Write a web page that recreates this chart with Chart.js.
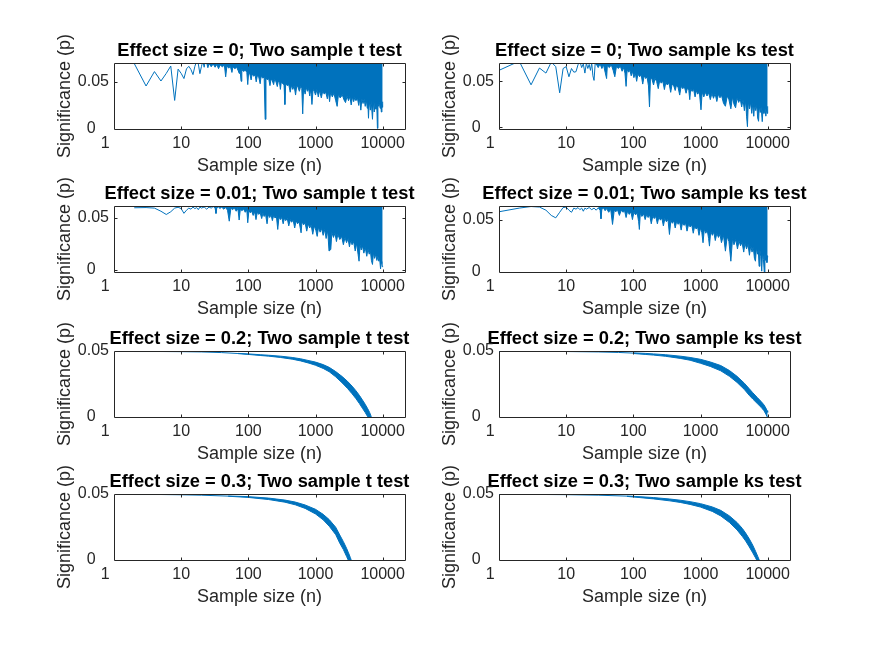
<!DOCTYPE html>
<html>
<head>
<meta charset="utf-8">
<script src="https://cdn.jsdelivr.net/npm/chart.js@4.4.1/dist/chart.umd.min.js"></script>
<style>
html, body { margin: 0; padding: 0; background: #ffffff; }
#fig { position: relative; width: 875px; height: 656px; overflow: hidden; background: #ffffff; }
#fig canvas { position: absolute; }
</style>
</head>
<body>
<div id="fig"></div>
<script>
// ---------------- data ----------------
const xTickValues = [1, 10, 100, 1000, 10000];
const xTickLabels = ['1', '10', '100', '1000', '10000'];
const yTickValues = [0, 0.05];
const yTickLabels = ['0', '0.05'];
const xAxisMin = 1;
const xAxisMax = 21500;
const xLabel = 'Sample size (n)';
const yLabel = 'Significance (p)';

const panelTitles = [
  'Effect size = 0; Two sample t test', 'Effect size = 0; Two sample ks test',
  'Effect size = 0.01; Two sample t test', 'Effect size = 0.01; Two sample ks test',
  'Effect size = 0.2; Two sample t test', 'Effect size = 0.2; Two sample ks test',
  'Effect size = 0.3; Two sample t test', 'Effect size = 0.3; Two sample ks test'
];
const yAxisMin = [0, -0.002, -0.002, 0, 0, 0, 0, 0];
const yAxisMax = [0.07, 0.07, 0.061, 0.063, 0.05, 0.05, 0.05, 0.05];

// Effect size 0, t test: sparse start [n, p] and lower edge of the dense region [n, p]
const tZeroLine = [[2,0.0695],[3,0.0456],[4,0.0609],[5,0.0509],[6,0.0590],[7,0.0668],[8,0.0303],[9,0.0635],[10,0.0590],[11,0.0535],[12,0.0638],[13,0.0665],[14,0.0630],[15,0.0577],[16,0.0665],[17,0.0720],[18,0.0690],[19,0.0587],[20,0.0660],[21,0.0720],[22,0.0655],[23,0.0740],[24,0.0700]];
const tZeroEdge = [[24,0.0700],[25,0.0650],[26,0.0695],[28,0.0660],[30,0.0690],[32,0.0655],[34,0.0685],[36,0.0640],[38,0.0680],[41,0.0660],
  [44,0.0678],[46,0.0553],[48,0.0670],[51,0.0645],[54,0.0665],[57,0.0600],[59,0.0660],[63,0.0640],[67,0.0655],[71,0.0615],
  [73,0.0590],[75,0.0640],[78,0.0506],[80,0.0630],[85,0.0610],[90,0.0625],[95,0.0600],[98,0.0471],[101,0.0595],[106,0.0575],
  [110,0.0520],[114,0.0585],[120,0.0560],[126,0.0575],[131,0.0500],[136,0.0565],[143,0.0550],[150,0.0480],[155,0.0560],[163,0.0540],
  [172,0.0550],[178,0.0103],[183,0.0545],[192,0.0520],[200,0.0540],[210,0.0460],[218,0.0530],[228,0.0510],[238,0.0470],[246,0.0525],
  [258,0.0500],[270,0.0450],[280,0.0510],[292,0.0490],[300,0.0420],[310,0.0500],[325,0.0480],[340,0.0470],[350,0.0260],[360,0.0480],
  [380,0.0460],[400,0.0470],[420,0.0390],[440,0.0465],[460,0.0420],[480,0.0460],[505,0.0360],[525,0.0455],[550,0.0440],[575,0.0400],
  [600,0.0450],[625,0.0430],[645,0.0160],[665,0.0440],[700,0.0370],[730,0.0440],[760,0.0400],[790,0.0430],[820,0.0350],[850,0.0425],
  [885,0.0260],[920,0.0420],[960,0.0400],[1000,0.0360],[1050,0.0420],[1100,0.0340],[1150,0.0410],[1220,0.0330],[1280,0.0400],[1350,0.0370],
  [1420,0.0390],[1500,0.0320],[1560,0.0395],[1620,0.0290],[1680,0.0390],[1780,0.0340],[1880,0.0380],[2000,0.0300],[2100,0.0240],[2200,0.0370],
  [2320,0.0330],[2400,0.0340],[2500,0.0365],[2650,0.0310],[2800,0.0280],[2950,0.0350],[3100,0.0300],[3250,0.0345],[3400,0.0255],[3550,0.0340],
  [3700,0.0290],[3850,0.0335],[4000,0.0300],[4200,0.0330],[4400,0.0250],[4550,0.0325],[4730,0.0200],[4900,0.0320],[5100,0.0270],[5300,0.0315],
  [5500,0.0240],[5700,0.0310],[5900,0.0220],[6000,0.0300],[6150,0.0114],[6300,0.0300],[6550,0.0200],[6750,0.0295],[7050,0.0103],[7250,0.0290],
  [7500,0.0180],[7700,0.0290],[7950,0.0210],[8150,0.0280],[8350,0.0007],[8500,0.0270],[8750,0.0240],[8950,0.0280],[9150,0.0220],[9350,0.0270],
  [9550,0.0180],[9750,0.0260],[9900,0.0230],[10000,0.0290]];

// Effect size 0, ks test
const ksZeroLine = [[1,0.0620],[2,0.0720],[3,0.0462],[4,0.0645],[5,0.0590],[6,0.0710],[7,0.0660],[8,0.0375],[9,0.0640],[10,0.0660],[11,0.0550],[12,0.0640],[13,0.0600],[14,0.0605],[15,0.0680],[16,0.0720],[17,0.0650],[18,0.0690],[19,0.0590],[20,0.0700],[21,0.0640],[22,0.0685],[23,0.0620],[24,0.0700],[25,0.0560],[26,0.0510],[27,0.0690],[28,0.0690]];
const ksZeroEdge = [[28,0.0690],[30,0.0650],[32,0.0690],[34,0.0640],[36,0.0680],[38,0.0600],[40,0.0530],[41,0.0670],[44,0.0650],[47,0.0680],
  [50,0.0620],[53,0.0550],[56,0.0660],[60,0.0640],[64,0.0665],[68,0.0610],[72,0.0650],[75,0.0590],[78,0.0445],[81,0.0630],
  [85,0.0600],[89,0.0620],[93,0.0560],[97,0.0610],[102,0.0540],[107,0.0590],[112,0.0500],[117,0.0580],[124,0.0550],[131,0.0570],
  [138,0.0470],[145,0.0560],[153,0.0530],[160,0.0550],[168,0.0450],[174,0.0220],[180,0.0540],[190,0.0520],[200,0.0460],[210,0.0530],
  [222,0.0500],[235,0.0420],[247,0.0510],[260,0.0480],[275,0.0500],[290,0.0410],[305,0.0490],[320,0.0460],[340,0.0480],[360,0.0380],
  [378,0.0470],[400,0.0450],[420,0.0400],[440,0.0460],[465,0.0430],[490,0.0350],[515,0.0445],[545,0.0420],[575,0.0440],[610,0.0370],
  [640,0.0430],[670,0.0400],[692,0.0300],[715,0.0420],[750,0.0390],[790,0.0410],[830,0.0330],[870,0.0400],[910,0.0360],[960,0.0390],
  [1017,0.0189],[1060,0.0385],[1120,0.0330],[1180,0.0380],[1250,0.0340],[1320,0.0375],[1400,0.0300],[1480,0.0370],[1560,0.0315],[1650,0.0365],
  [1750,0.0280],[1850,0.0360],[1950,0.0320],[2050,0.0350],[2200,0.0260],[2350,0.0228],[2500,0.0340],[2650,0.0300],[2830,0.0200],[3000,0.0330],
  [3150,0.0250],[3330,0.0211],[3500,0.0320],[3700,0.0270],[3900,0.0310],[4100,0.0220],[4300,0.0300],[4500,0.0180],[4700,0.0290],[4850,0.0120],
  [5000,0.0005],[5150,0.0280],[5350,0.0200],[5550,0.0270],[5800,0.0150],[6000,0.0260],[6210,0.0119],[6400,0.0250],[6650,0.0180],[6900,0.0240],
  [7100,0.0100],[7320,0.0064],[7500,0.0230],[7750,0.0160],[8000,0.0220],[8300,0.0060],[8550,0.0210],[8800,0.0150],[9100,0.0210],[9400,0.0120],
  [9650,0.0200],[9850,0.0150],[10000,0.0228]];

// Effect size 0.01, t test
const tSmallLine = [[2,0.0593],[3,0.0595],[4,0.0590],[5,0.0560],[6,0.0529],[7,0.0555],[8,0.0590],[9,0.0598],[10,0.0585],[11,0.0540],[12,0.0570],[13,0.0590],[14,0.0580],[15,0.0600],[16,0.0585],[17,0.0595],[18,0.0575],[19,0.0600],[20,0.0590],[22,0.0600],[24,0.0580],[26,0.0600],[28,0.0590],[30,0.0605]];
const tSmallEdge = [[30,0.0605],[32,0.0590],[33,0.0539],[34,0.0595],[36,0.0600],[38,0.0585],[40,0.0600],[43,0.0580],[46,0.0595],[49,0.0570],
  [52,0.0465],[55,0.0590],[58,0.0575],[62,0.0590],[66,0.0560],[70,0.0585],[73,0.0476],[76,0.0580],[80,0.0565],[85,0.0580],
  [90,0.0550],[95,0.0570],[98,0.0450],[102,0.0565],[107,0.0545],[112,0.0560],[118,0.0520],[124,0.0555],[130,0.0480],[136,0.0550],
  [143,0.0530],[150,0.0545],[158,0.0490],[165,0.0540],[172,0.0510],[180,0.0535],[190,0.0440],[198,0.0530],[208,0.0500],[218,0.0525],
  [228,0.0470],[238,0.0520],[250,0.0495],[262,0.0510],[274,0.0386],[286,0.0505],[300,0.0480],[315,0.0500],[330,0.0440],[345,0.0495],
  [360,0.0470],[380,0.0490],[400,0.0420],[420,0.0480],[440,0.0455],[465,0.0475],[490,0.0400],[515,0.0470],[540,0.0440],[570,0.0460],
  [600,0.0380],[610,0.0354],[630,0.0460],[665,0.0430],[700,0.0450],[740,0.0370],[780,0.0440],[820,0.0400],[860,0.0430],[910,0.0340],
  [960,0.0420],[1010,0.0380],[1060,0.0320],[1110,0.0410],[1170,0.0360],[1230,0.0395],[1300,0.0330],[1370,0.0385],[1440,0.0300],[1520,0.0375],
  [1590,0.0180],[1690,0.0195],[1750,0.0360],[1850,0.0310],[1950,0.0350],[2050,0.0270],[2150,0.0340],[2300,0.0290],[2450,0.0320],[2600,0.0240],
  [2750,0.0310],[2900,0.0260],[3050,0.0300],[3200,0.0220],[3350,0.0285],[3500,0.0240],[3700,0.0270],[3900,0.0180],[4100,0.0255],[4300,0.0150],
  [4450,0.0083],[4600,0.0240],[4800,0.0190],[5000,0.0230],[5250,0.0160],[5500,0.0215],[5800,0.0130],[6050,0.0200],[6300,0.0150],[6550,0.0185],
  [6800,0.0090],[7050,0.0052],[7300,0.0165],[7600,0.0110],[7900,0.0150],[8200,0.0090],[8500,0.0130],[8750,0.0083],[9000,0.0110],[9300,0.0010],
  [9500,0.0080],[9700,0.0060],[9850,0.0030],[10000,0.0035]];

// Effect size 0.01, ks test
const ksSmallLine = [[1,0.0575],[2,0.0610],[3,0.0625],[4,0.0620],[5,0.0590],[6,0.0540],[7,0.0517],[8,0.0570],[9,0.0615],[10,0.0620],[11,0.0590],[12,0.0570],[13,0.0610],[14,0.0600],[15,0.0615],[16,0.0595],[17,0.0610],[18,0.0580],[19,0.0610],[20,0.0600],[22,0.0615],[24,0.0595],[26,0.0610],[28,0.0590],[30,0.0612]];
const ksSmallEdge = [[30,0.0612],[32,0.0590],[33,0.0508],[34,0.0600],[36,0.0610],[38,0.0585],[40,0.0605],[43,0.0570],[46,0.0600],[49,0.0454],
  [52,0.0590],[55,0.0575],[58,0.0595],[62,0.0540],[66,0.0590],[70,0.0570],[74,0.0585],[78,0.0520],[82,0.0580],[87,0.0550],
  [92,0.0575],[97,0.0500],[102,0.0570],[108,0.0545],[114,0.0565],[120,0.0480],[123,0.0406],[127,0.0560],[134,0.0530],[142,0.0555],
  [150,0.0500],[158,0.0550],[166,0.0520],[175,0.0545],[185,0.0460],[195,0.0535],[205,0.0510],[216,0.0530],[228,0.0460],[240,0.0525],
  [253,0.0495],[266,0.0515],[280,0.0440],[295,0.0510],[310,0.0480],[328,0.0500],[345,0.0358],[362,0.0495],[380,0.0465],[400,0.0490],
  [420,0.0420],[442,0.0485],[465,0.0455],[490,0.0475],[515,0.0400],[540,0.0470],[570,0.0445],[600,0.0465],[630,0.0390],[665,0.0455],
  [700,0.0430],[740,0.0450],[780,0.0370],[820,0.0440],[860,0.0410],[905,0.0430],[950,0.0350],[1000,0.0420],[1045,0.0380],[1090,0.0279],
  [1140,0.0410],[1200,0.0370],[1260,0.0400],[1320,0.0320],[1360,0.0247],[1420,0.0390],[1500,0.0350],[1580,0.0380],[1660,0.0300],[1750,0.0370],
  [1850,0.0330],[1950,0.0360],[2050,0.0280],[2200,0.0350],[2350,0.0199],[2500,0.0340],[2650,0.0290],[2830,0.0103],[3000,0.0320],[3150,0.0260],
  [3350,0.0310],[3550,0.0220],[3750,0.0295],[3950,0.0250],[4150,0.0285],[4400,0.0190],[4600,0.0275],[4850,0.0220],[5100,0.0265],[5350,0.0160],
  [5600,0.0250],[5850,0.0190],[6100,0.0240],[6350,0.0130],[6580,0.0103],[6800,0.0230],[7050,0.0170],[7250,0.0220],[7450,0.0055],[7650,0.0210],
  [7900,0.0150],[8150,0.0008],[8400,0.0190],[8650,0.0120],[8900,0.0000],[9100,0.0170],[9350,0.0110],[9550,0.0160],[9750,0.0090],[9900,0.0140],
  [10000,0.0151]];

// Effect size 0.2 / 0.3: thin start [n, p] then noisy band [n, upper p, lower p]
const tMidLine = [[2,0.0496],[5,0.0496],[10,0.0495],[20,0.0493],[40,0.0488],[70,0.0481]];
const tMidBand = [[70,0.0482,0.0480],[100,0.0478,0.0474],[150,0.0472,0.0466],[200,0.0468,0.0461],[300,0.0461,0.0451],[450,0.0451,0.0438],
  [600,0.0441,0.0425],[800,0.0427,0.0408],[1000,0.0416,0.0392],[1300,0.0397,0.0368],[1600,0.0376,0.0343],[2000,0.0344,0.0304],
  [2500,0.0306,0.0258],[3000,0.0270,0.0216],[3500,0.0234,0.0176],[4000,0.0199,0.0139],[4500,0.0164,0.0102],[5000,0.0129,0.0066],
  [5500,0.0096,0.0034],[6000,0.0062,0.0001],[6400,0.0034,-0.0020],[6700,0.0008,-0.0020],[6800,-0.0005,-0.0020]];

const ksMidLine = [[1,0.0497],[3,0.0497],[10,0.0496],[30,0.0493],[60,0.0489],[100,0.0484]];
const ksMidBand = [[100,0.0486,0.0481],[150,0.0482,0.0474],[200,0.0478,0.0469],[300,0.0472,0.0460],[500,0.0461,0.0444],[700,0.0451,0.0430],
  [1000,0.0437,0.0407],[1400,0.0417,0.0383],[2000,0.0390,0.0350],[2700,0.0352,0.0308],[3500,0.0308,0.0262],[4500,0.0256,0.0208],
  [5300,0.0215,0.0165],[6000,0.0184,0.0136],[7000,0.0148,0.0102],[8000,0.0117,0.0073],[8800,0.0092,0.0048],[9400,0.0068,0.0022],
  [9800,0.0048,0.0002],[10000,0.0035,-0.0010]];

const tLargeLine = [[2,0.0496],[5,0.0496],[10,0.0494],[20,0.0491],[50,0.0484]];
const tLargeBand = [[50,0.0485,0.0483],[100,0.0480,0.0474],[200,0.0469,0.0458],[350,0.0454,0.0438],[500,0.0439,0.0418],[700,0.0417,0.0391],
  [1000,0.0384,0.0349],[1300,0.0346,0.0304],[1600,0.0306,0.0256],[2000,0.0248,0.0192],[2300,0.0189,0.0127],[2600,0.0139,0.0079],
  [2900,0.0089,0.0027],[3100,0.0054,-0.0005],[3300,0.0019,-0.0020],[3400,0.0000,-0.0020]];

const ksLargeLine = [[1,0.0497],[3,0.0497],[10,0.0495],[30,0.0491],[80,0.0484]];
const ksLargeBand = [[80,0.0485,0.0482],[130,0.0479,0.0472],[200,0.0473,0.0463],[350,0.0462,0.0448],[500,0.0453,0.0436],[700,0.0442,0.0421],
  [1000,0.0427,0.0401],[1500,0.0402,0.0368],[2000,0.0376,0.0334],[2700,0.0334,0.0284],[3500,0.0284,0.0228],[4200,0.0239,0.0178],
  [4700,0.0204,0.0144],[5300,0.0162,0.0101],[6000,0.0112,0.0054],[6600,0.0066,0.0016],[7100,0.0029,-0.0015],[7500,0.0000,-0.0020]];

// ---------------- rendering ----------------
const FONT = '"Liberation Sans", Arial, Helvetica, sans-serif';
const BLUE = '#0072BD';
const AXIS = '#262626';

const colLeft = [114, 499];
const rowTop = [63, 206, 351, 494];
const plotW = 291, plotH = 66;
const axisW = 60, axisH = 46, padT = 8, padB = 8, titleBlock = 21;

const toXY = (pairs) => pairs.map(d => ({x: d[0], y: d[1]}));
const lineDs = (pairs) => ({data: toXY(pairs), borderColor: BLUE, borderWidth: 1, pointRadius: 0, fill: false, xAxisID: 'x', yAxisID: 'y'});
const edgeDs = (pairs) => ({data: toXY(pairs), borderColor: BLUE, backgroundColor: BLUE, borderWidth: 1, pointRadius: 0, fill: 'end', xAxisID: 'x', yAxisID: 'y'});
const bandDs = (triples) => [
  {data: triples.map(d => ({x: d[0], y: d[1]})), borderColor: BLUE, borderWidth: 1, pointRadius: 0, fill: false, xAxisID: 'x', yAxisID: 'y'},
  {data: triples.map(d => ({x: d[0], y: d[2]})), borderColor: BLUE, backgroundColor: BLUE, borderWidth: 1, pointRadius: 0, fill: '-1', xAxisID: 'x', yAxisID: 'y'}
];

const panelData = [
  [lineDs(tZeroLine), edgeDs(tZeroEdge)],
  [lineDs(ksZeroLine), edgeDs(ksZeroEdge)],
  [lineDs(tSmallLine), edgeDs(tSmallEdge)],
  [lineDs(ksSmallLine), edgeDs(ksSmallEdge)],
  [lineDs(tMidLine), ...bandDs(tMidBand)],
  [lineDs(ksMidLine), ...bandDs(ksMidBand)],
  [lineDs(tLargeLine), ...bandDs(tLargeBand)],
  [lineDs(ksLargeLine), ...bandDs(ksLargeBand)]
];

const boxPlugin = {
  id: 'matlabBox',
  afterDatasetsDraw(chart) {
    const {ctx, chartArea: a} = chart;
    const xs = chart.scales.x, ys = chart.scales.y;
    const L = Math.floor(a.left) + 0.5, R = Math.floor(a.right) + 0.5;
    const T = Math.floor(a.top) + 0.5, B = Math.floor(a.bottom) + 0.5;
    const tl = 3;
    ctx.save();
    ctx.strokeStyle = AXIS;
    ctx.lineWidth = 1;
    ctx.beginPath();
    ctx.rect(L, T, R - L, B - T);
    xs.ticks.forEach(t => {
      const px = Math.round(xs.getPixelForValue(t.value)) + 0.5;
      if (px - L < 1 || R - px < 1) return;
      ctx.moveTo(px, B); ctx.lineTo(px, B - tl);
      ctx.moveTo(px, T); ctx.lineTo(px, T + tl);
    });
    ys.ticks.forEach(t => {
      const py = Math.round(ys.getPixelForValue(t.value)) + 0.5;
      if (py - T < 1 || B - py < 1) return;
      ctx.moveTo(L, py); ctx.lineTo(L + tl, py);
      ctx.moveTo(R, py); ctx.lineTo(R - tl, py);
    });
    ctx.stroke();
    ctx.restore();
  }
};

const fig = document.getElementById('fig');
panelTitles.forEach((title, i) => {
  const col = i % 2, row = Math.floor(i / 2);
  const W = axisW * 2 + plotW;
  const H = padT + titleBlock + plotH + axisH + padB;
  const c = document.createElement('canvas');
  c.width = W; c.height = H;
  c.style.width = W + 'px'; c.style.height = H + 'px';
  c.style.left = (colLeft[col] - axisW) + 'px';
  c.style.top = (rowTop[row] - padT - titleBlock) + 'px';
  fig.appendChild(c);

  new Chart(c, {
    type: 'line',
    data: {datasets: panelData[i]},
    options: {
      responsive: false,
      animation: false,
      devicePixelRatio: 1,
      events: [],
      layout: {autoPadding: false, padding: {top: padT, bottom: padB, left: 0, right: 0}},
      plugins: {
        legend: {display: false},
        tooltip: {enabled: false},
        title: {
          display: true, text: title, color: '#000000', fullSize: true,
          font: {family: FONT, size: 18.3, weight: 'bold', lineHeight: '18px'},
          padding: {top: 0, bottom: 3}
        }
      },
      scales: {
        x: {
          type: 'logarithmic', position: 'bottom', min: xAxisMin, max: xAxisMax,
          afterBuildTicks: s => { s.ticks = xTickValues.map(v => ({value: v})); },
          afterFit: s => { s.height = axisH; },
          grid: {display: false, drawTicks: false},
          border: {display: false},
          ticks: {
            autoSkip: false, maxRotation: 0, minRotation: 0, padding: 7, color: AXIS,
            font: {family: FONT, size: 16, lineHeight: '16px'},
            callback: (v, idx) => idx === 0 ? xTickLabels[idx] + '    ' : xTickLabels[idx]
          },
          title: {display: true, text: xLabel, color: AXIS, font: {family: FONT, size: 18, lineHeight: '18px'}, padding: {top: 0, bottom: 0}}
        },
        y: {
          type: 'linear', position: 'left', min: yAxisMin[i], max: yAxisMax[i],
          afterBuildTicks: s => { s.ticks = yTickValues.map(v => ({value: v})); },
          afterFit: s => { s.width = axisW; },
          grid: {display: false, drawTicks: false},
          border: {display: false},
          ticks: {
            padding: 5, color: AXIS,
            font: {family: FONT, size: 16, lineHeight: '16px'},
            callback: (v, idx) => idx === 0 ? yTickLabels[idx] + '   ' : yTickLabels[idx]
          },
          title: {display: true, text: yLabel, color: AXIS, font: {family: FONT, size: 18, lineHeight: '18px'}, padding: {top: 2, bottom: 0}}
        },
        y2: {
          type: 'linear', position: 'right', min: 0, max: 1, display: true,
          grid: {display: false, drawTicks: false},
          border: {display: false},
          ticks: {display: false},
          afterFit: s => { s.width = axisW; }
        }
      }
    },
    plugins: [boxPlugin]
  });
});
</script>
</body>
</html>
